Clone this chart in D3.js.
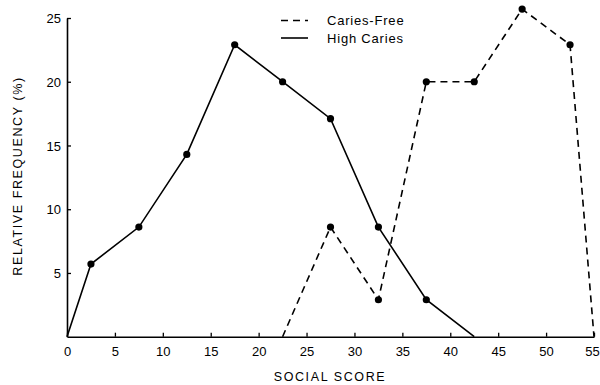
<!DOCTYPE html>
<html><head><meta charset="utf-8">
<script src="https://cdn.jsdelivr.net/npm/d3@7"></script>
<style>body{margin:0;background:#fff}svg text{font-family:"Liberation Sans",Arial,sans-serif;fill:#000}</style>
</head><body><svg id="c" width="600" height="385"></svg>
<script>
const xTicks = [0,5,10,15,20,25,30,35,40,45,50,55];
const yTicks = [5,10,15,20,25];
const highScores = [0,2.5,7.5,12.5,17.5,22.5,27.5,32.5,37.5,42.5];
const highValues = [0,5.7,8.6,14.3,22.9,20.0,17.1,8.6,2.9,0];
const highMarked = [false,true,true,true,true,true,true,true,true,false];
const freeScores = [22.5,27.5,32.5,37.5,42.5,47.5,52.5,55];
const freeValues = [0,8.6,2.9,20.0,20.0,25.7,22.9,0];
const freeMarked = [false,true,true,true,true,true,true,false];
const seriesNames = ["Caries-Free","High Caries"];

const svg = d3.select("#c");
const x = d3.scaleLinear().domain([0,55]).range([67,594]);
const y = d3.scaleLinear().domain([0,25]).range([336.7,18]);

// axes
const xa = svg.append("g").attr("transform","translate(0,"+y(0)+")")
  .call(d3.axisBottom(x).tickValues(xTicks).tickSize(-4).tickPadding(8).tickSizeOuter(0));
const ya = svg.append("g").attr("transform","translate("+x(0)+",0)")
  .call(d3.axisLeft(y).tickValues(yTicks).tickSize(-4).tickPadding(6).tickSizeOuter(0));
[xa,ya].forEach(a=>{
  a.select(".domain").attr("stroke","#000").attr("stroke-width",1.6);
  a.selectAll(".tick line").attr("stroke","#000").attr("stroke-width",1.3);
  a.selectAll(".tick text").attr("font-size",13).attr("fill","#000");
});
xa.selectAll(".tick text").attr("dy","0.9em");
xa.selectAll(".tick text").filter(d=>d===55).attr("dx",-2);
ya.selectAll(".tick text").attr("dy","0.36em");

const line = d3.line().x(d=>x(d[0])).y(d=>y(d[1]));
function draw(scores, values, marked, dash){
  const pts = scores.map((s,i)=>[s,values[i],marked[i]]);
  svg.append("path").attr("d",line(pts)).attr("fill","none").attr("stroke","#000")
    .attr("stroke-width",1.6).attr("stroke-dasharray",dash);
  svg.selectAll(null).data(pts.filter(p=>p[2])).enter().append("circle")
    .attr("cx",d=>x(d[0])).attr("cy",d=>y(d[1])).attr("r",3.6).attr("fill","#000");
}
draw(freeScores, freeValues, freeMarked, "7,5");
draw(highScores, highValues, highMarked, null);

// legend
const lg = svg.append("g");
[["7,5",20.5],[null,38]].forEach((d,i)=>{
  lg.append("line").attr("x1",281).attr("x2",308).attr("y1",d[1]).attr("y2",d[1])
    .attr("stroke","#000").attr("stroke-width",1.6).attr("stroke-dasharray",d[0]);
  lg.append("text").attr("x",327).attr("y",d[1]).attr("dy","0.36em")
    .attr("font-size",13).attr("letter-spacing","0.8px").text(seriesNames[i]);
});

// axis titles
svg.append("text").attr("x",330).attr("y",381).attr("text-anchor","middle")
  .attr("font-size",12.5).attr("letter-spacing","1.6px").text("SOCIAL SCORE");
svg.append("text").attr("transform","translate(22,176) rotate(-90)").attr("text-anchor","middle")
  .attr("font-size",12.5).attr("letter-spacing","1.6px").text("RELATIVE FREQUENCY (%)");
</script></body></html>
